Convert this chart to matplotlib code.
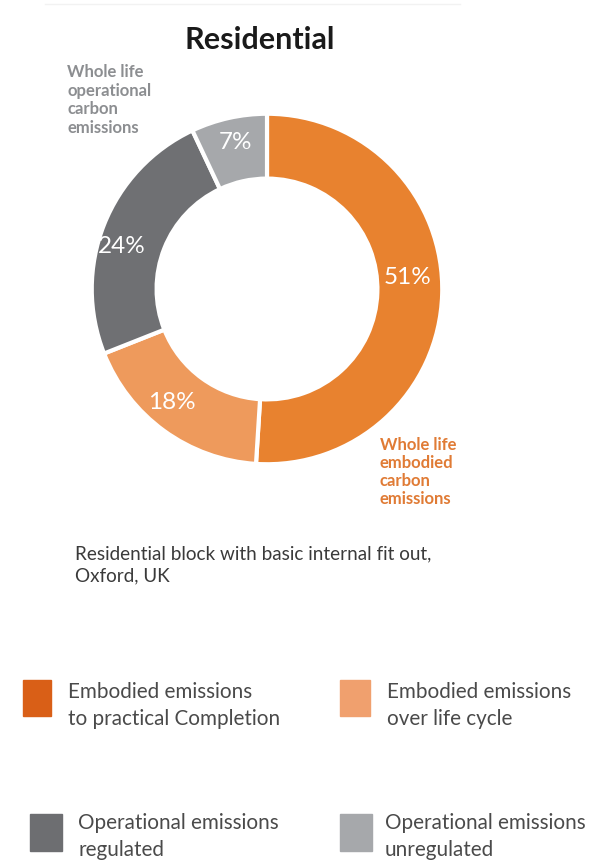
import matplotlib
matplotlib.use("Agg")
import matplotlib.pyplot as plt
from matplotlib.patches import Rectangle

plt.rcParams["font.family"] = ["Lato", "DejaVu Sans"]

# data
shares = [51, 18, 24, 7]
pct_labels = ["51%", "18%", "24%", "7%"]
slice_colors = ["#E8822F", "#EE9A5C", "#6F7073", "#A6A8AB"]

legend_labels = ["Embodied emissions\nto practical Completion",
                 "Embodied emissions\nover life cycle",
                 "Operational emissions\nregulated",
                 "Operational emissions\nunregulated"]
legend_colors = ["#D95F17", "#F0A06E", "#6D6E71", "#A6A8AB"]

W, H = 605, 862
fig = plt.figure(figsize=(W / 100, H / 100), dpi=100)


def fx(x):
    return x / W


def fy(y):
    return 1 - y / H


# faint rule at the top
fig.add_artist(plt.Line2D([fx(45), fx(460)], [fy(5), fy(5)], color="#f2f2f2", lw=1))

fig.text(fx(260), fy(40), "Residential", ha="center", va="center",
         fontsize=22, fontweight="bold", color="#1a1a1a")

# donut
cx, cy, r = 267, 290, 177
ax = fig.add_axes([fx(cx - r), fy(cy + r), 2 * r / W, 2 * r / H])
wedges, texts, autotexts = ax.pie(
    shares, colors=slice_colors, startangle=90, counterclock=False,
    radius=1.0, labels=None,
    autopct=lambda p: "", pctdistance=0.84,
    wedgeprops=dict(width=0.37, edgecolor="white", linewidth=3))
# small nudges (px) to match the label placement of the original
nudges = [(-7, 17), (-9, 7), (-8, -11), (1, 4)]
for t, lab, (dx, dy) in zip(autotexts, pct_labels, nudges):
    x0, y0 = t.get_position()
    t.set_position((x0 + dx / r, y0 + dy / r))
    t.set_text(lab)
    t.set_color("white")
    t.set_fontsize(17.5)
ax.set_xlim(-1.01, 1.01)
ax.set_ylim(-1.01, 1.01)
ax.axis("off")

fig.text(fx(67), fy(64), "Whole life\noperational\ncarbon\nemissions",
         ha="left", va="top", fontsize=12, fontweight="bold",
         color="#8C8E91", linespacing=1.2)
fig.text(fx(380), fy(437), "Whole life\nembodied\ncarbon\nemissions",
         ha="left", va="top", fontsize=12, fontweight="bold",
         color="#E07B35", linespacing=1.16)

fig.text(fx(75), fy(545), "Residential block with basic internal fit out,\nOxford, UK",
         ha="left", va="top", fontsize=13.6, color="#3a3a3a", linespacing=1.38)

# legend
sq_pos = [(23, 681, 28, 36), (340, 681, 30, 36), (30, 815, 32, 37), (340, 815, 32, 37)]
txt_pos = [(68, 682), (387, 682), (78, 813), (385, 813)]
for (x, y, w, h), (tx, ty), col, lab in zip(sq_pos, txt_pos, legend_colors, legend_labels):
    fig.add_artist(Rectangle((fx(x), fy(y + h)), w / W, h / H, color=col,
                             transform=fig.transFigure))
    fig.text(fx(tx), fy(ty), lab, ha="left", va="top", fontsize=14.9,
             color="#4a4a4a", linespacing=1.42)

fig.savefig("out.png", dpi=100, facecolor="white")
